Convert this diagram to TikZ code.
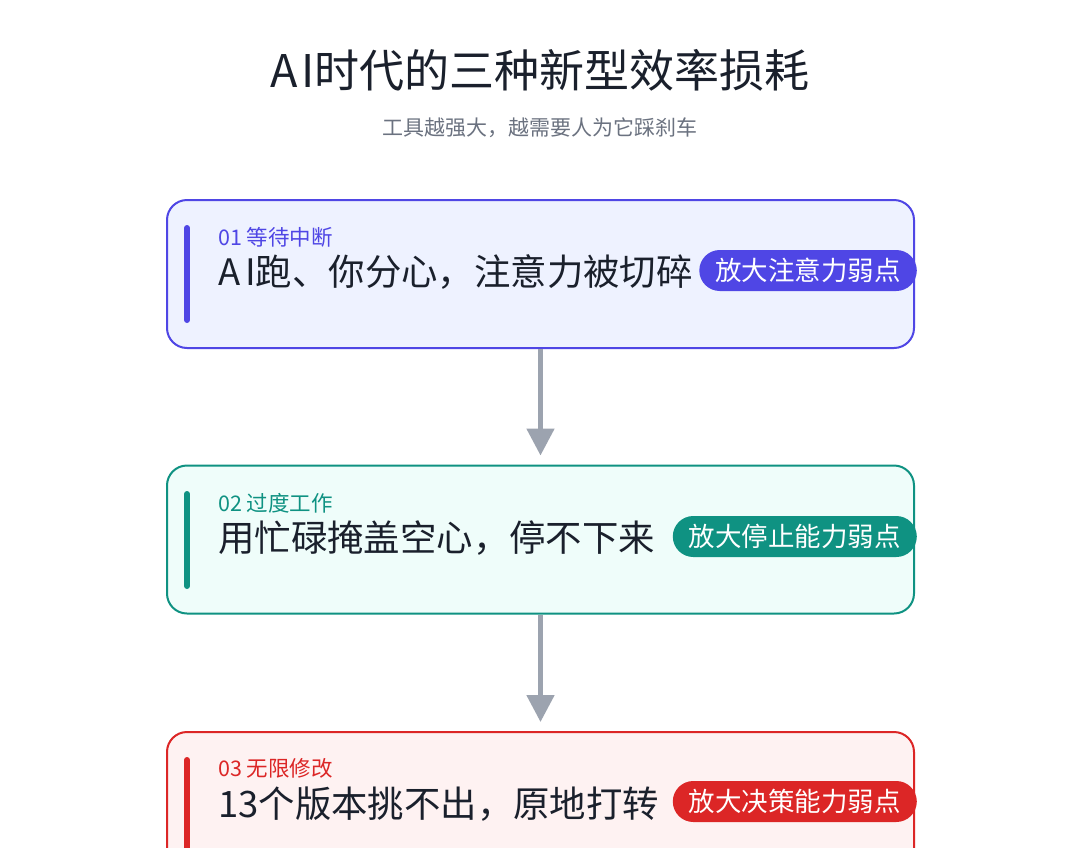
\documentclass[tikz,border=0pt]{standalone}
\usepackage{fontspec}
\setmainfont{Noto Sans CJK SC}
\usepackage{tikz}
\usetikzlibrary{%
  calc,
  positioning,
  arrows.meta,
}

\definecolor{ink}{HTML}{1A202C}
\definecolor{muted}{HTML}{6B7280}
\definecolor{arrowgray}{HTML}{9CA3AF}
\definecolor{indigo}{HTML}{4F46E5}
\definecolor{indigobg}{HTML}{EEF2FF}
\definecolor{teal}{HTML}{0F9282}
\definecolor{tealbg}{HTML}{EFFDFA}
\definecolor{crimson}{HTML}{DC2626}
\definecolor{crimsonbg}{HTML}{FEF2F2}

\tikzset{
  card/.style={draw=#1, fill=#1bg, line width=2pt,
    rounded corners=20pt, minimum width=747pt,
    minimum height=148pt, inner sep=0pt},
  badge/.style={fill=#1, text=white, rounded corners=20.5pt,
    minimum height=41pt, inner xsep=16pt, inner ysep=0pt,
    anchor=east, font=\fontsize{26.5}{29}\selectfont},
  tagline/.style={text=#1, anchor=west, inner sep=0pt,
    font=\fontsize{21.5}{24}\selectfont},
  headline/.style={text=ink, anchor=west, inner sep=0pt,
    font=\fontsize{36.4}{40}\selectfont},
  sidebar/.style={line width=6pt, line cap=round, #1},
  flow/.style={line width=5pt, arrowgray,
    -{Triangle[width=27pt,length=27pt]}, shorten >=9pt},
}

\begin{document}
\begin{tikzpicture}[x=1pt, y=1pt]
  % page is 1080 x 847, y runs downwards as -y
  \path[use as bounding box] (0,0) rectangle (1080,-847);
  \clip (0,0) rectangle (1080,-847);
  \fill[white] (0,0) rectangle (1080,-847);

  % title
  \node[text=ink, font=\fontsize{45}{49}\selectfont]
    (title) at (540,-70) {A\kern4pt I时代的三种新型效率损耗};
  \node[text=muted, font=\fontsize{21}{24}\selectfont]
    (subtitle) at (540,-128) {工具越强大，越需要人为它踩刹车};

  % three cards
  \node[card=indigo] (c1) at (540.5,-274) {};
  \node[card=teal] (c2) at (540.5,-539.5) {};
  \node[card=crimson] (c3) at (540.5,-806) {};

  \draw[sidebar=indigo] (187,-228) -- (187,-320);
  \draw[sidebar=teal] (187,-494) -- (187,-586);
  \draw[sidebar=crimson] (187,-760) -- (187,-900);

  \node[tagline=indigo] (t1) at (218,-237) {01 等待中断};
  \node[headline] (h1) at (218,-272) {A\kern5pt I跑、你分心，注意力被切碎};
  \node[badge=indigo] (b1) at (917,-270.5) {放大注意力弱点};

  \node[tagline=teal] (t2) at (218,-503) {02 过度工作};
  \node[headline] (h2) at (218,-538) {用忙碌掩盖空心，停不下来};
  \node[badge=teal] (b2) at (917,-536.5) {放大停止能力弱点};

  \node[tagline=crimson] (t3) at (218,-768) {03 无限修改};
  \node[headline] (h3) at (218,-804) {13个版本挑不出，原地打转};
  \node[badge=crimson] (b3) at (917,-801.5) {放大决策能力弱点};

  % connectors
  \draw[flow] (c1.south) -- (c2.north);
  \draw[flow] (c2.south) -- (c3.north);
\end{tikzpicture}
\end{document}
